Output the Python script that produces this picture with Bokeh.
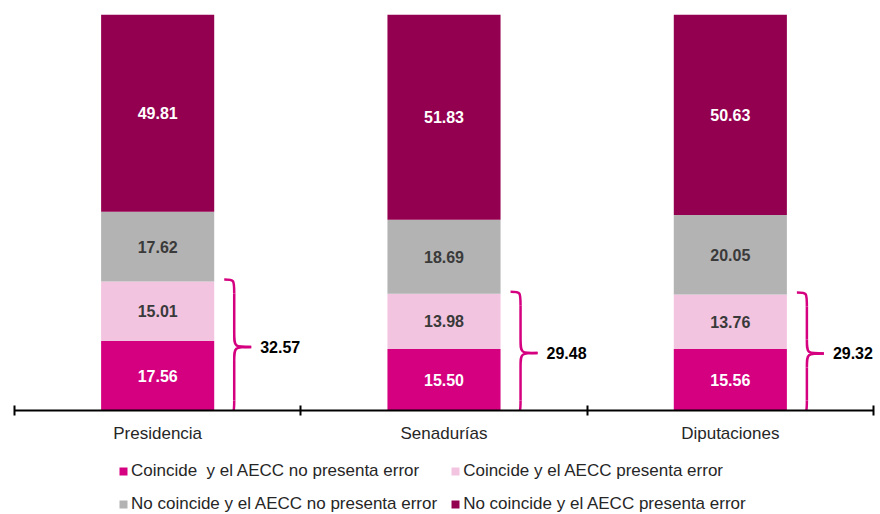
import numpy as np
from bokeh.plotting import figure
from bokeh.layouts import column
from bokeh.models import (Range1d, FixedTicker, Legend, LegendItem, ColumnDataSource, LabelSet)
from bokeh.core.properties import value
from bokeh.embed import file_html
from bokeh.resources import INLINE

# ---- data ----
categories = ["Presidencia", "Senadurías", "Diputaciones"]
coincide_sin_error = [17.56, 15.50, 15.56]
coincide_con_error = [15.01, 13.98, 13.76]
no_coincide_sin_error = [17.62, 18.69, 20.05]
no_coincide_con_error = [49.81, 51.83, 50.63]
series_names = ["Coincide  y el AECC no presenta error",
                "Coincide y el AECC presenta error",
                "No coincide y el AECC no presenta error",
                "No coincide y el AECC presenta error"]

colors = ["#D5007F", "#F3C4E0", "#B3B3B3", "#940050"]
label_colors = ["white", "#3A3A3A", "#3A3A3A", "white"]
FONT = "Liberation Sans"
REG_SIZE = "17px"
BOLD_SIZE = "16px"

n = len(categories)
xpos = np.arange(n) + 0.5
series = [coincide_sin_error, coincide_con_error, no_coincide_sin_error, no_coincide_con_error]
keys = ["s0", "s1", "s2", "s3"]
src = ColumnDataSource(dict(x=xpos, **{k: v for k, v in zip(keys, series)}))

W = 880
p = figure(width=W, height=450, x_range=Range1d(0, n), y_range=Range1d(0, 100),
           output_backend="svg", toolbar_location=None, y_axis_type=None,
           min_border_left=14, min_border_right=7, min_border_top=14, min_border_bottom=40)
p.outline_line_color = None
p.xgrid.visible = False
p.ygrid.visible = False

bar_w = 0.395
rs = p.vbar_stack(keys, x="x", width=bar_w, color=colors, line_color=None, source=src)

# segment labels
arr = np.array(series)
tops = np.cumsum(arr, axis=0)
bots = tops - arr
for j in range(4):
    lsrc = ColumnDataSource(dict(x=xpos, y=(tops[j] + bots[j]) / 2,
                                 t=[f"{v:.2f}" for v in arr[j]]))
    p.text(x="x", y="y", text="t", source=lsrc, text_align="center",
           text_baseline="middle", text_font=value(FONT), text_font_style="bold",
           text_font_size=BOLD_SIZE, text_color=label_colors[j])

# braces for the two "coincide" series
px_x = 859 / n  # approx pixels per x unit
px_y = 396 / 100
xr = xpos + bar_w / 2
totals = arr[0] + arr[1]
xa = xr + 10 / px_x
xb = xr + 20 / px_x
xc = xr + 37 / px_x
top = totals + 0.5
bot = np.full(n, -1.0)
mid = (top + bot) / 2
r = 14 / px_y
bc = "#D5007F"
lw = 2.5
p.bezier(x0=xa, y0=top, x1=xb, y1=top - r, cx0=xb, cy0=top, cx1=xb, cy1=top,
         line_color=bc, line_width=lw)
p.segment(x0=xb, y0=top - r, x1=xb, y1=mid + r, line_color=bc, line_width=lw)
p.bezier(x0=xb, y0=mid + r, x1=xc, y1=mid, cx0=xb, cy0=mid, cx1=xb, cy1=mid,
         line_color=bc, line_width=lw)
p.bezier(x0=xc, y0=mid, x1=xb, y1=mid - r, cx0=xb, cy0=mid, cx1=xb, cy1=mid,
         line_color=bc, line_width=lw)
p.segment(x0=xb, y0=mid - r, x1=xb, y1=bot + r, line_color=bc, line_width=lw)
p.bezier(x0=xb, y0=bot + r, x1=xa, y1=bot, cx0=xb, cy0=bot, cx1=xb, cy1=bot,
         line_color=bc, line_width=lw)
tsrc = ColumnDataSource(dict(x=xr, y=mid, t=[f"{v:.2f}" for v in totals]))
p.add_layout(LabelSet(x="x", y="y", text="t", source=tsrc, x_offset=46,
                      text_align="left", text_baseline="middle",
                      text_font=value(FONT), text_font_style="bold",
                      text_font_size=BOLD_SIZE, text_color="black"))

# x axis
ax = p.xaxis[0]
ax.ticker = FixedTicker(ticks=list(xpos), minor_ticks=list(range(n + 1)))
ax.major_label_overrides = {float(x): c for x, c in zip(xpos, categories)}
ax.axis_line_color = "black"
ax.axis_line_width = 2
ax.major_tick_line_color = None
ax.major_tick_in = 0
ax.major_tick_out = 0
ax.minor_tick_line_color = "black"
ax.minor_tick_line_width = 2
ax.minor_tick_in = 5
ax.minor_tick_out = 5
ax.major_label_standoff = 8
ax.major_label_text_font = FONT
ax.major_label_text_font_size = REG_SIZE
ax.major_label_text_color = "#262626"

# legend in a separate strip below
q = figure(width=W, height=64, x_range=Range1d(0, 1), y_range=Range1d(0, 1),
           output_backend="svg", toolbar_location=None, x_axis_type=None,
           y_axis_type=None, min_border=0)
q.outline_line_color = None
q.xgrid.visible = False
q.ygrid.visible = False
lrs = q.vbar_stack(keys, x="x", width=bar_w, color=colors, line_color=None, source=src)
for rr in lrs:
    rr.visible = False
items = [LegendItem(label=nm, renderers=[rr]) for nm, rr in zip(series_names, lrs)]
legend = Legend(items=items, location=(104, 0), orientation="horizontal", ncols=2,
                padding=0, margin=0, spacing=13, glyph_width=10, glyph_height=10,
                label_height=16, label_standoff=3, border_line_color=None,
                background_fill_alpha=0, label_text_font=FONT,
                label_text_font_size=REG_SIZE, label_text_color="#262626")
q.add_layout(legend)

open("out.html", "w").write(file_html(column(p, q), INLINE))
